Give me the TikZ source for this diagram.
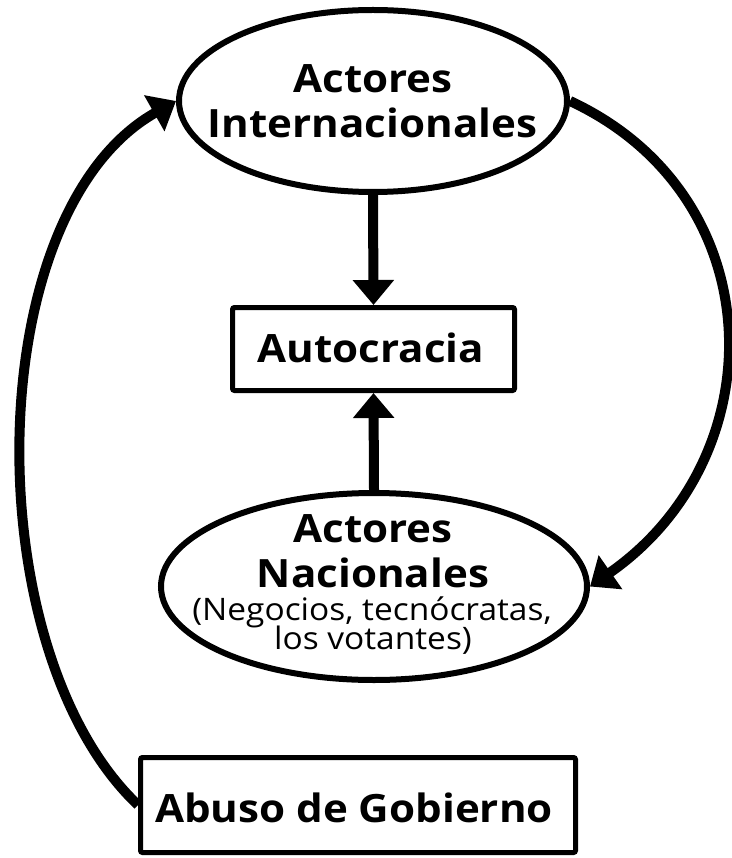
\documentclass[tikz,border=0pt]{standalone}
\usepackage{fontspec}
\setmainfont{Open Sans}[FakeStretch=1.08]
\usetikzlibrary{shapes.geometric,arrows.meta}
\tikzset{
  ell/.style={ellipse,draw=black,line width=6pt,inner sep=0pt,fill=white},
  boxn/.style={rectangle,draw=black,line width=5pt,inner sep=0pt,rounded corners=2pt,fill=white},
  bigtxt/.style={anchor=base,inner sep=0pt,font=\fontsize{39}{44}\selectfont\bfseries},
  smalltxt/.style={anchor=base,inner sep=0pt,font=\fontsize{31}{36}\selectfont},
  conn/.style={line width=10pt,-{Triangle[length=25pt,width=40pt]}},
}
\begin{document}
\begin{tikzpicture}[x=1pt,y=-1pt]
\useasboundingbox (0,0) rectangle (731,858);
\fill[white] (0,0) rectangle (731,858);
% shapes
\node[ell,minimum width=388pt,minimum height=182pt] (inter) at (373,101) {};
\node[boxn,minimum width=282pt,minimum height=83pt] (auto) at (373.5,349) {};
\node[ell,minimum width=426pt,minimum height=187pt] (nac) at (374,586.5) {};
\node[boxn,minimum width=435pt,minimum height=95pt] (abuso) at (358,805) {};
% texts
\node[bigtxt] (t1) at (373,93) {Actores};
\node[bigtxt] (t2) at (372.5,138) {Internacionales};
\node[bigtxt] (t3) at (371,362) {Autocracia};
\node[bigtxt] (t4) at (373,542) {Actores};
\node[bigtxt] (t5) at (373,587) {Nacionales};
\node[smalltxt] (t6) at (372,620) {(Negocios, tecnócratas,};
\node[smalltxt] (t7) at (373,649) {los votantes)};
\node[bigtxt] (t8) at (354,822) {Abuso de Gobierno};
% connectors
\draw[conn] (inter.south) -- (auto.north);
\draw[conn] (nac.north) -- (auto.south);
\draw[conn] (inter.east) .. controls (774,196) and (776,457) .. (nac.east);
\draw[conn] (abuso.west) .. controls (-24,652) and (-22,213) .. (inter.west);
\end{tikzpicture}
\end{document}
